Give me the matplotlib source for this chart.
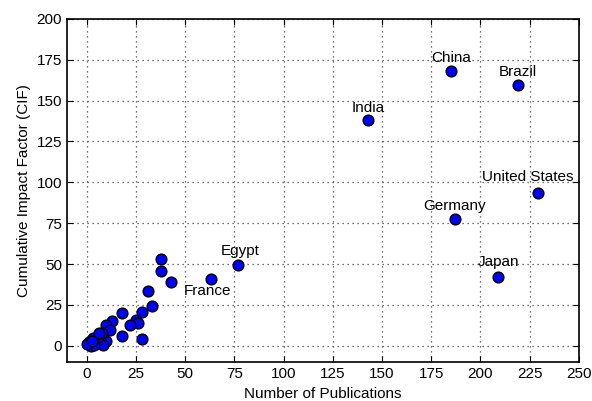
import matplotlib
matplotlib.use("Agg")
import matplotlib.pyplot as plt

plt.rcParams['font.family'] = ['Liberation Sans', 'DejaVu Sans']

pubs = [185, 219, 143, 229, 187, 209, 77, 63,
        38, 38, 43, 31, 33, 28, 18, 25, 26, 22, 18, 28,
        13, 10, 12, 10, 8.5, 7.8, 5.6, 3, 1, 2, 3.8, 0.4, 6.2, 2.6]
cif = [168, 159.5, 138, 93.6, 77.3, 42, 49.2, 40.8,
       53, 46, 39, 33.6, 24.6, 20.5, 20.2, 16, 14, 13, 6.1, 4.2,
       15, 12.5, 9.7, 2.7, 0.7, 7.5, 5.5, 4.7, 2.4, 0.1, 0.2, 1.2, 8, 3]

labels = ["China", "Brazil", "India", "United States", "Germany", "Japan", "Egypt", "France"]
label_offsets = [(0, 8), (0, 8), (0, 7.5), (-5, 9.5), (0, 8), (0, 9), (1, 9), (-1.5, -7)]

fig = plt.figure(figsize=(5.92, 4.01), dpi=100)
ax = fig.add_axes([0.113, 0.097, 0.865, 0.856])

ax.scatter(pubs, cif, s=60, c='#0000ff', edgecolors='black', linewidths=1.0, zorder=3)

for i, name in enumerate(labels):
    dx, dy = label_offsets[i]
    ax.text(pubs[i] + dx, cif[i] + dy, name, ha='center', va='center', fontsize=11, zorder=4)

ax.set_xlim(-10, 250)
ax.set_ylim(-10, 200)
ax.set_xticks(range(0, 251, 25))
ax.set_yticks(range(0, 201, 25))
ax.grid(True, linestyle=(0, (1, 3)), color='#444444', linewidth=0.9)
ax.tick_params(direction='in', top=True, right=True, labelsize=11, length=4)
for sp in ax.spines.values():
    sp.set_linewidth(1.2)
ax.set_xlabel("Number of Publications", fontsize=11)
ax.set_ylabel("Cumulative Impact Factor (CIF)", fontsize=11)

fig.savefig("out.png", dpi=100)
